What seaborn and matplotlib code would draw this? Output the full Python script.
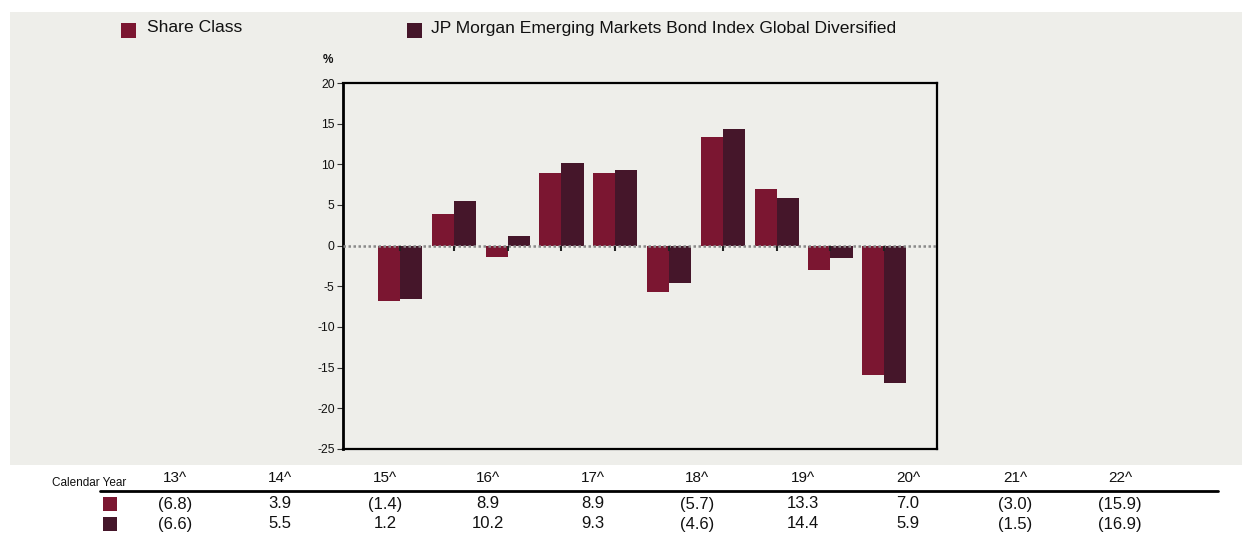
import matplotlib
matplotlib.use("Agg")
import matplotlib.pyplot as plt
from matplotlib.patches import Rectangle
import numpy as np
import pandas as pd
import seaborn as sns

# Calendar-year returns (%)
years = ["13^", "14^", "15^", "16^", "17^", "18^", "19^", "20^", "21^", "22^"]
share_class = [-6.8, 3.9, -1.4, 8.9, 8.9, -5.7, 13.3, 7.0, -3.0, -15.9]
benchmark = [-6.6, 5.5, 1.2, 10.2, 9.3, -4.6, 14.4, 5.9, -1.5, -16.9]
series_names = ["Share Class", "JP Morgan Emerging Markets Bond Index Global Diversified"]
colors = ["#7B1631", "#45162A"]

df = pd.DataFrame({
    "year": years * 2,
    "value": share_class + benchmark,
    "series": [series_names[0]] * len(years) + [series_names[1]] * len(years),
})

sns.set_theme(style="white")
plt.rcParams["font.family"] = ["Liberation Sans", "DejaVu Sans"]
plt.rcParams["axes.unicode_minus"] = False

W, H = 1242, 533
fig = plt.figure(figsize=(W / 100, H / 100), dpi=100)
fig.patch.set_facecolor("white")
bg = "#EEEEEA"


def fx(px):
    return px / W


def fy(py):
    return 1 - py / H


# grey panel behind the chart
fig.patches.append(Rectangle((fx(10), fy(465)), 1 - fx(10), fy(12) - fy(465),
                             transform=fig.transFigure, facecolor=bg, edgecolor="none",
                             zorder=-5))

ax = fig.add_axes([fx(343), fy(449), fx(937) - fx(343), fy(83) - fy(449)])
ax.set_zorder(2)
ax.set_facecolor(bg)

sns.barplot(data=df, x="year", y="value", hue="series", palette=colors,
            width=0.82, saturation=1, ax=ax, legend=False, zorder=3,
            edgecolor="none", linewidth=0)

ax.set_xlim(-1.06, 9.98)
ax.set_ylim(-25, 20)
ax.set_yticks(np.arange(-25, 21, 5))
ax.set_xticks([])
ax.set_xlabel("")
ax.set_ylabel("")
ax.tick_params(axis="y", which="both", left=True, length=4, width=0.8, color="#333333",
               labelsize=8.8, pad=2, labelcolor="#111111")
for s in ax.spines.values():
    s.set_visible(True)
    s.set_color("black")
    s.set_linewidth(1.6)
ax.spines["left"].set_linewidth(2)

# dotted zero line with category ticks hanging below it
ax.axhline(0, color="#8a8a8a", linestyle=(0, (1, 1)), linewidth=1.8, zorder=4)
xpos = np.arange(len(years))
ax.vlines(xpos, -0.6, 0, color="#222222", linewidth=1.5, zorder=5)

fig.text(fx(328), fy(60), "%", fontsize=8.5, fontweight="bold", ha="center", va="center",
         color="#111111")

# legend across the top
leg_items = [(121, 147), (407, 431)]
for (sq_x, tx), name, c in zip(leg_items, series_names, colors):
    fig.patches.append(Rectangle((fx(sq_x), fy(38)), fx(15), 15 / H,
                                 transform=fig.transFigure, facecolor=c, edgecolor="none"))
    fig.text(fx(tx), fy(28), name, fontsize=12.6, ha="left", va="center", color="#111111")

# table of annual figures
col_x = [175, 280, 385, 488, 593, 697, 803, 908, 1015, 1120]
fig.text(fx(52), fy(483), "Calendar Year", fontsize=8.5, ha="left", va="center", color="#111111")
for cx, yr in zip(col_x, years):
    fig.text(fx(cx), fy(478), yr, fontsize=11, ha="center", va="center", color="#111111")
fig.add_artist(plt.Line2D([fx(100), fx(1218)], [fy(491), fy(491)],
                          transform=fig.transFigure, color="black", linewidth=2))


def fmt(v):
    return f"({abs(v):.1f})" if v < 0 else f"{v:.1f}"


for row_y, vals, c in zip([504, 524], [share_class, benchmark], colors):
    fig.patches.append(Rectangle((fx(103), fy(row_y + 7)), fx(14), 14 / H,
                                 transform=fig.transFigure, facecolor=c, edgecolor="none"))
    for cx, v in zip(col_x, vals):
        fig.text(fx(cx), fy(row_y), fmt(v), fontsize=12, ha="center", va="center", color="#111111")

fig.savefig("out.png", dpi=100, facecolor=fig.get_facecolor())
